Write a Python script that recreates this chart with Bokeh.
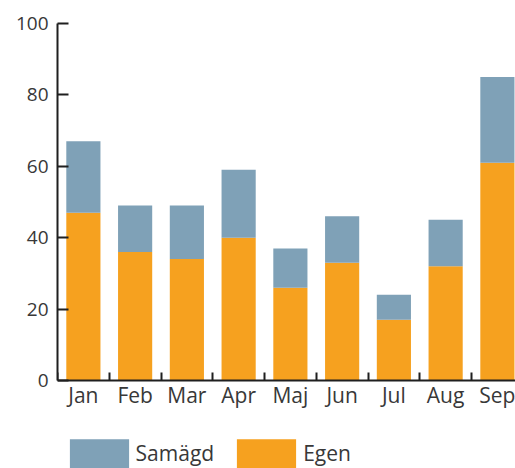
from bokeh.plotting import figure
from bokeh.models import Range1d, FixedTicker, Legend, LegendItem, ColumnDataSource
from bokeh.embed import file_html
from bokeh.resources import INLINE

months = ["Jan", "Feb", "Mar", "Apr", "Maj", "Jun", "Jul", "Aug", "Sep"]
egen = [47, 36, 34, 40, 26, 33, 17, 32, 61]
samagd = [20, 13, 15, 19, 11, 13, 7, 13, 24]
y_ticks = [0, 20, 40, 60, 80, 100]

ORANGE = "#F6A11F"
BLUE = "#7FA1B7"
TEXT = "#383838"
AXIS = "#1f1f1f"
FONT = "Open Sans"

centers = [i + 0.5 for i in range(len(months))]
bounds = list(range(len(months) + 1))

src = ColumnDataSource(dict(x=centers, Egen=egen, Samagd=samagd))

p = figure(width=515, height=468, x_range=Range1d(0, 8.85), y_range=Range1d(-24.65, 100),
           output_backend="svg", toolbar_location=None,
           min_border_left=57, min_border_right=0, min_border_top=23, min_border_bottom=0)
p.outline_line_color = None
p.xgrid.grid_line_color = None
p.ygrid.grid_line_color = None

rs = p.vbar_stack(["Egen", "Samagd"], x="x", width=0.66, color=[ORANGE, BLUE],
                  line_color=None, source=src)

yax = p.yaxis[0]
yax.ticker = FixedTicker(ticks=y_ticks)
yax.bounds = (0, 100)
yax.major_tick_in = 11
yax.major_tick_out = 0
yax.minor_tick_line_color = None
yax.axis_line_width = 2
yax.axis_line_color = AXIS
yax.major_tick_line_width = 2
yax.major_tick_line_color = AXIS
yax.major_label_text_font = FONT
yax.major_label_text_font_size = "19px"
yax.major_label_text_color = TEXT
yax.major_label_standoff = 9

xax = p.xaxis[0]
xax.fixed_location = 0
xax.ticker = FixedTicker(ticks=centers, minor_ticks=bounds)
xax.major_tick_line_color = None
xax.major_tick_in = 0
xax.major_tick_out = 0
xax.minor_tick_in = 8
xax.minor_tick_out = 0
xax.minor_tick_line_width = 2
xax.minor_tick_line_color = AXIS
xax.axis_line_width = 2
xax.axis_line_color = AXIS
xax.major_label_overrides = {c: m for c, m in zip(centers, months)}
xax.major_label_text_font = FONT
xax.major_label_text_font_size = "21px"
xax.major_label_text_color = TEXT
xax.major_label_standoff = 1

legend = Legend(items=[LegendItem(label="Samägd", renderers=[rs[1]]),
                       LegendItem(label="Egen", renderers=[rs[0]])],
                orientation="horizontal", location=(4.6, -3.75),
                glyph_width=74, glyph_height=37, label_standoff=0, spacing=15,
                padding=0, margin=0, border_line_color=None, background_fill_alpha=0,
                label_text_font=FONT, label_text_font_size="21px", label_text_color=TEXT,
                label_height=37)
p.add_layout(legend, "center")

open("out.html", "w").write(file_html(p, INLINE))
